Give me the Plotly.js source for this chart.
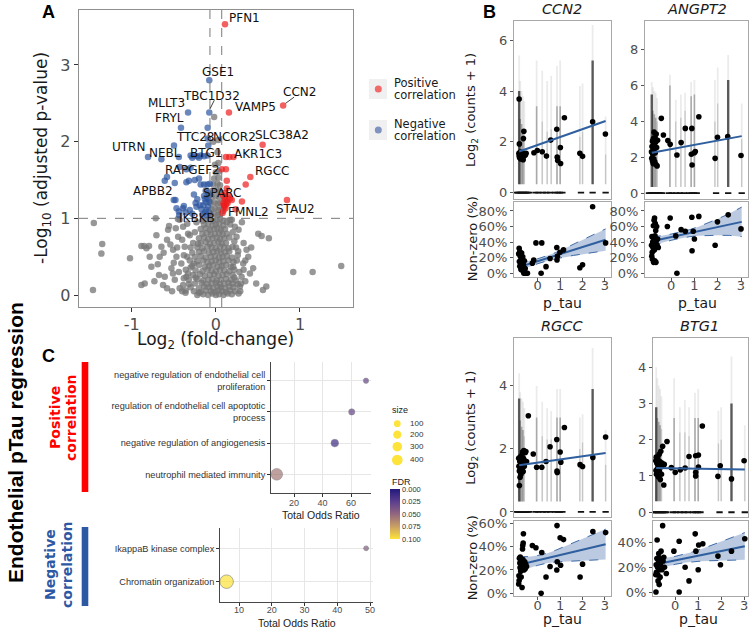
<!DOCTYPE html>
<html><head><meta charset="utf-8">
<script src="https://cdn.plot.ly/plotly-3.0.1.min.js"></script>
<style>body{margin:0;padding:0;background:#fff}#chart{width:750px;height:628px}</style>
</head><body><div id="chart"></div>
<script>
// ================= DATA =================
// ---- Panel A: volcano ----
const fcCut = 0.07;   // |log2 fold-change| threshold
const sigCut = 1;     // -log10 adjusted p threshold
const grayPts = [
[-1.45,0.94],[-1.35,0.665],[-1.36,0.54],[-1.46,0.065],[-1.02,0.48],[-0.885,0.64],[-0.853,0.64],[-0.825,0.61],[-0.794,0.64],[-0.885,0.13],[-0.845,0.15],[-0.714,1.0],[-0.786,0.5],[-0.766,0.37],[-0.706,0.78],[-0.667,0.5],[-0.675,0.26],[-0.607,0.24],[-0.627,0.13],[-0.58,0.09],[-0.647,0.63],[-0.567,0.85],[-0.58,0.72],[-0.556,0.9],[-0.528,0.35],[-0.51,0.28],[-0.488,0.2],[-0.468,0.5],[-0.508,0.59],[-0.448,0.76],[-0.476,0.87],[-0.43,0.98],[-0.41,0.41],[-0.389,0.13],[-0.43,0.09],[-0.37,0.63],[-0.357,0.33],[-0.35,0.24],[-0.33,0.8],[-0.389,0.89],[-0.31,0.45],[-0.45,0.99],
[-0.62,0.55],[-0.54,0.66],[-0.5,0.42],[-0.44,0.3],[-0.46,0.62],[-0.4,0.72],[-0.38,0.52],[-0.34,0.93],[-0.52,0.05],[-0.36,0.03],[-0.32,0.14],[-0.73,0.18],[-0.69,0.4],
[1.49,0.38],[1.15,0.30],[0.63,0.74],[0.504,0.8],[0.544,0.77],[0.385,0.5],[0.405,0.28],[0.325,0.41],[0.365,0.59],[0.444,0.35],[0.306,0.24],[0.286,0.11],[0.246,0.76],[0.226,0.89],[0.266,0.57],[0.206,0.37],[0.19,0.98],[0.6,0.11],[0.92,0.30],[0.56,0.065],[0.17,0.98],[0.33,0.68],[0.29,0.05],[0.35,0.18],[0.27,0.85],[0.48,0.15],[0.31,0.95],[0.42,0.62],
[-0.36,0.06],[-0.33,0.28],[-0.3,0.36],[-0.28,0.55],[-0.27,0.68],[-0.25,0.82],[-0.23,0.95],[-0.3,0.62],[-0.34,0.5],[-0.38,0.22],[-0.4,0.05],[0.28,0.3],[0.25,0.45],[0.24,0.62],[0.22,0.7],[0.3,0.15],[0.27,0.02],[0.33,0.33],[0.2,0.82],[0.17,0.92],[-0.2,0.03],[-0.26,0.41],[-0.24,0.23],[-0.21,0.67],[0.22,0.23],[0.26,0.52],[-0.16,0.97],[0.13,0.95],[-0.31,0.78],[0.35,0.45],
[-0.22,0.0],[-0.15,0.01],[-0.09,0.0],[-0.04,0.02],[0.0,0.0],[0.04,0.01],[0.09,0.0],[0.14,0.02],[0.19,0.01],
[-0.26,0.05],[-0.18,0.04],[-0.12,0.06],[-0.06,0.05],[-0.01,0.04],[0.03,0.06],[0.07,0.05],[0.12,0.04],[0.17,0.06],[0.23,0.05],
[-0.3,0.1],[-0.2,0.09],[-0.14,0.11],[-0.08,0.1],[-0.03,0.09],[0.02,0.11],[0.06,0.1],[0.11,0.09],[0.16,0.11],[0.21,0.1],
[-0.25,0.15],[-0.17,0.16],[-0.11,0.14],[-0.05,0.15],[0.0,0.16],[0.05,0.14],[0.1,0.15],[0.15,0.16],[0.2,0.15],[0.26,0.14],
[-0.32,0.2],[-0.22,0.21],[-0.15,0.19],[-0.09,0.2],[-0.04,0.21],[0.01,0.19],[0.06,0.2],[0.12,0.21],[0.18,0.2],[0.24,0.19],
[-0.27,0.26],[-0.19,0.27],[-0.13,0.25],[-0.07,0.26],[-0.02,0.27],[0.03,0.25],[0.08,0.26],[0.13,0.27],[0.2,0.26],
[-0.24,0.32],[-0.16,0.31],[-0.1,0.33],[-0.05,0.32],[0.0,0.31],[0.05,0.33],[0.1,0.32],[0.16,0.31],[0.22,0.33],
[-0.28,0.38],[-0.2,0.39],[-0.13,0.37],[-0.08,0.38],[-0.03,0.39],[0.02,0.37],[0.07,0.38],[0.12,0.39],[0.18,0.37],
[-0.22,0.44],[-0.15,0.45],[-0.1,0.43],[-0.05,0.44],[0.0,0.45],[0.04,0.43],[0.09,0.44],[0.15,0.45],[0.21,0.43],
[-0.25,0.5],[-0.18,0.51],[-0.12,0.49],[-0.06,0.5],[-0.01,0.51],[0.04,0.49],[0.08,0.5],[0.13,0.51],[0.19,0.49],
[-0.2,0.56],[-0.14,0.57],[-0.08,0.55],[-0.03,0.56],[0.02,0.57],[0.06,0.55],[0.11,0.56],[0.16,0.57],
[-0.22,0.62],[-0.16,0.61],[-0.1,0.63],[-0.05,0.62],[0.0,0.61],[0.05,0.63],[0.1,0.62],[0.15,0.61],[0.2,0.63],
[-0.18,0.68],[-0.12,0.69],[-0.07,0.67],[-0.02,0.68],[0.03,0.69],[0.07,0.67],[0.12,0.68],
[-0.2,0.74],[-0.14,0.75],[-0.09,0.73],[-0.04,0.74],[0.01,0.75],[0.05,0.73],[0.1,0.74],[0.16,0.75],
[-0.16,0.8],[-0.11,0.81],[-0.06,0.79],[-0.01,0.8],[0.04,0.81],[0.08,0.79],[0.13,0.8],
[-0.18,0.86],[-0.12,0.87],[-0.07,0.85],[-0.02,0.86],[0.02,0.87],[0.06,0.85],[0.11,0.86],
[-0.14,0.92],[-0.09,0.93],[-0.04,0.91],[0.0,0.92],[0.04,0.93],[0.09,0.91],
[-0.12,0.98],[-0.07,0.99],[-0.03,0.97],[0.01,0.98],[0.05,0.99],[0.09,0.97],
[-0.06,1.05],[-0.02,1.06],[0.02,1.04],[0.05,1.05],[-0.05,1.12],[-0.01,1.13],[0.03,1.11],[0.06,1.12],
[-0.06,1.2],[-0.02,1.21],[0.02,1.19],[0.05,1.2],[-0.05,1.28],[0.0,1.29],[0.04,1.27],
[-0.04,1.36],[0.01,1.37],[0.05,1.35],[-0.03,1.44],[0.02,1.45],[0.05,1.43],
[-0.02,1.52],[0.03,1.53],[0.0,1.6],[0.04,1.61],[-0.01,1.7],[0.03,1.72],[0.02,1.86],[-0.03,2.0],[0.03,2.02],[-0.02,2.32]
];
const bluePts = [
[-0.078,2.80],[-0.078,2.38],[-0.33,2.38],[-0.414,2.18],[-0.097,2.18],[-0.097,2.04],[-0.09,1.95],[-0.497,1.95],[-0.806,1.80],[-0.647,1.77],[-0.44,1.80],
[-0.3,1.82],[-0.26,1.82],[-0.22,1.81],[-0.18,1.82],[-0.14,1.81],[-0.1,1.82],[-0.28,1.79],[-0.2,1.79],
[-0.43,1.67],[-0.35,1.64],[-0.3,1.66],[-0.58,1.54],[-0.607,1.49],[-0.488,1.46],[-0.35,1.47],[-0.32,1.49],[-0.25,1.5],[-0.2,1.52],
[-0.18,1.44],[-0.14,1.44],[-0.1,1.44],[-0.07,1.45],
[-0.12,1.36],[-0.09,1.33],[-0.14,1.29],[-0.1,1.26],[-0.08,1.22],[-0.12,1.21],[-0.15,1.17],[-0.09,1.15],[-0.11,1.11],[-0.08,1.08],[-0.13,1.08],[-0.1,1.03],[-0.16,1.05],[-0.22,1.25],[-0.24,1.2],[-0.19,1.17],[-0.26,1.31],[-0.08,1.3],[-0.13,1.25],[-0.17,1.12],
[-0.5,1.24],[-0.48,1.24],[-0.467,1.13],[-0.39,1.13],[-0.31,1.11],[-0.44,1.09],[-0.36,1.08],[-0.435,1.04],[-0.38,1.16],[-0.23,1.15],[-0.28,1.06]
];
const redPts = [
[0.109,3.53],[0.80,2.47],[0.156,2.38],[0.556,1.96],[0.12,1.80],[0.16,1.80],[0.21,1.80],[0.07,1.64],[0.12,1.64],[0.41,1.54],[0.355,1.44],[0.13,1.49],[0.13,1.39],[0.19,1.24],[0.31,1.22],[0.235,1.12],
[0.09,1.2],[0.1,1.15],[0.11,1.25],[0.12,1.18],[0.13,1.22],[0.1,1.27],[0.115,1.13],[0.095,1.17],[0.08,1.07],[0.845,1.24],[0.15,1.3],[0.14,1.2],[0.09,1.1],[0.17,1.26],[0.085,1.3],[0.105,1.33]
];
const geneNames = ['PFN1','GSE1','TBC1D32','MLLT3','CCN2','VAMP5','FRYL','SLC38A2','TTC28','NCOR2','UTRN','NEBL','BTG1','AKR1C3','RAPGEF2','RGCC','APBB2','SPARC','STAU2','FMNL2','IKBKB'];

// ---- Panel C: enrichment ----
const posTerms = ['negative regulation of endothelial cell<br>proliferation','regulation of endothelial cell apoptotic<br>process','negative regulation of angiogenesis','neutrophil mediated immunity'];
const posOR = [70.5, 60.5, 48.6, 7.9];
const posSize = [30, 75, 160, 500];
const posFDR = [0.03, 0.03, 0.012, 0.058];
const negTerms = ['IkappaB kinase complex','Chromatin organization'];
const negOR = [48.8, 6.2];
const negSize = [8, 700];
const negFDR = [0.045, 0.1];
const sizeBreaks = [100, 200, 300, 400];
const fdrBreaks = [0, 0.025, 0.05, 0.075, 0.1];

// ---- Panel B: per-gene regressions ----
const streakX = [-0.83,-0.78,-0.72,-0.66,-0.6,-0.05,0.2,0.42,0.6,0.86,1.0,1.88,2.0,2.45,3.03];
const streakCells = [900,300,250,200,150,350,150,150,150,320,320,100,120,900,40];
const zeroX = [-0.95,-0.88,-0.81,-0.74,-0.67,-0.6,-0.53,-0.46,-0.39,-0.1,0.03,0.22,0.38,0.55,0.77,0.89,0.99,1.1,1.93,2.45,3.03];
const fitX = [-0.83, 3.03];
const bandX = [-0.83,-0.4,0,0.4,0.8,1.2,1.6,2.0,2.5,3.03];

const ccn2Hi = [5.4,4.4,4.0,3.8,3.6,5.2,4.8,4.4,4.6,5.0,5.2,4.2,4.3,6.6,3.0];
const ccn2Core = [4.0,2.9,2.7,2.5,2.4,3.4,2.8,2.4,2.5,3.4,3.4,2.2,2.4,5.2,1.5];
const ccn2Mean = [[-0.83,3.69],[-0.82,1.92],[-0.84,1.55],[-0.83,1.45],[-0.81,1.38],[-0.8,1.5],[-0.78,1.6],[-0.77,1.42],[-0.75,1.33],[-0.74,1.52],[-0.72,1.45],[-0.7,1.58],[-0.69,1.38],[-0.67,1.5],[-0.65,1.3],[-0.64,2.13],[-0.62,2.42],[-0.61,1.44],[-0.58,1.52],[-0.55,1.48],[-0.52,1.55],[-0.17,1.57],[-0.02,1.66],[0.2,1.61],[0.39,1.44],[0.58,2.07],[0.85,2.5],[0.87,1.4],[0.89,1.27],[1.01,1.78],[1.02,1.15],[1.19,2.95],[1.88,1.55],[2.0,1.43],[2.45,2.79],[3.02,2.31]];
const ccn2Fit = [1.62, 2.82];
const ccn2Nz = [[-0.85,25],[-0.83,32],[-0.82,15],[-0.8,28],[-0.8,9],[-0.78,22],[-0.77,12],[-0.75,5],[-0.74,19],[-0.72,26],[-0.7,8],[-0.69,14],[-0.67,21],[-0.66,3],[-0.64,11],[-0.62,0],[-0.6,16],[-0.58,0],[-0.56,6],[-0.54,0],[-0.5,0],[-0.46,0],[-0.24,13],[-0.18,17],[-0.08,39],[0.15,0],[0.18,39],[0.37,8.5],[0.55,19],[0.85,33],[0.86,17],[0.88,22],[0.99,27],[1.15,30],[1.88,7],[2.0,11],[2.45,85.5],[3.03,39]];
const ccn2NzFit = [8, 43];
const ccn2NzUp = [13,15.7,18.7,22.4,26.6,31.9,37.2,42.7,49.7,57];
const ccn2NzLo = [3,8.1,12.3,15.8,18.8,20.9,23.0,24.7,26.7,29];

const angpt2Hi = [6.2,5.9,5.7,5.6,5.3,6.6,5.2,5.5,5.6,6.2,6.3,6.3,7.0,7.7,5.0];
const angpt2Core = [5.5,4.6,4.4,4.2,4.0,6.0,4.0,4.2,4.6,5.4,5.5,4.0,5.0,6.3,3.0];
const angpt2Mean = [[-0.84,2.3],[-0.83,1.95],[-0.82,2.6],[-0.8,1.8],[-0.8,2.9],[-0.78,2.15],[-0.77,1.65],[-0.76,3.05],[-0.75,2.45],[-0.74,1.9],[-0.73,3.4],[-0.72,2.7],[-0.7,1.75],[-0.69,3.1],[-0.68,2.25],[-0.66,2.85],[-0.65,1.6],[-0.64,3.3],[-0.62,2.55],[-0.6,1.52],[-0.58,2.95],[-0.42,4.17],[-0.33,3.24],[-0.14,2.93],[-0.04,2.72],[0.25,2.13],[0.43,2.82],[0.61,3.61],[0.89,3.61],[0.87,2.17],[0.9,1.57],[1.04,2.32],[1.0,2.25],[1.19,4.26],[1.89,1.94],[1.99,3.11],[2.43,3.15],[3.0,2.1]];
const angpt2Fit = [2.25, 3.18];
const angpt2Nz = [[-0.84,36],[-0.83,22],[-0.82,47],[-0.81,27],[-0.8,18],[-0.79,40],[-0.78,33],[-0.76,61],[-0.75,14],[-0.74,44],[-0.73,68],[-0.72,30],[-0.71,71],[-0.7,16],[-0.69,48],[-0.68,64],[-0.67,38],[-0.66,55],[-0.65,14],[-0.64,41],[-0.62,60],[-0.6,36],[-0.58,44],[-0.55,33],[-0.16,60],[-0.04,71],[0.25,0],[0.2,48],[0.43,56],[0.61,54],[0.89,72],[0.9,29],[0.95,54],[1.0,44],[1.19,73],[1.89,36],[1.99,66],[2.45,75],[3.0,57]];
const angpt2NzFit = [41, 66];
const angpt2NzUp = [47,48.2,50.3,52.9,56,60.1,64.7,69.8,76.6,85];
const angpt2NzLo = [35,39.2,42.3,44.9,47,48.1,48.7,48.8,48.6,47];

const rgccHi = [4.4,3.8,3.6,3.5,3.3,4.0,3.5,3.3,3.2,3.9,3.9,3.0,3.1,5.2,2.6];
const rgccCore = [3.6,2.9,2.7,2.6,2.4,3.0,2.4,2.3,2.3,3.0,3.0,2.0,2.2,3.9,1.5];
const rgccMean = [[-0.85,1.7],[-0.84,1.45],[-0.82,0.84],[-0.82,1.3],[-0.8,1.6],[-0.79,1.1],[-0.78,1.75],[-0.77,1.4],[-0.75,1.2],[-0.74,1.65],[-0.72,1.5],[-0.71,1.8],[-0.7,1.35],[-0.68,1.9],[-0.67,1.55],[-0.65,1.28],[-0.64,1.7],[-0.62,1.95],[-0.6,1.45],[-0.58,1.62],[-0.56,1.88],[-0.53,1.92],[-0.5,1.6],[-0.42,3.05],[-0.2,1.84],[-0.05,1.42],[0.18,1.42],[0.37,1.6],[0.55,2.07],[0.85,2.3],[0.86,1.3],[0.87,1.25],[1.0,1.9],[1.03,1.58],[1.19,2.68],[1.89,1.5],[2.0,1.44],[2.46,1.73],[3.03,2.38]];
const rgccFit = [1.48, 1.87];
const rgccNz = [[-0.85,8],[-0.84,15],[-0.83,11],[-0.82,30],[-0.8,26],[-0.79,22],[-0.78,31],[-0.76,19],[-0.75,28],[-0.74,14],[-0.72,24],[-0.7,5],[-0.69,22],[-0.68,38],[-0.67,41],[-0.66,29],[-0.65,43],[-0.64,51],[-0.62,20],[-0.6,24],[-0.58,27],[-0.56,21],[-0.54,25],[-0.5,23],[-0.24,41],[-0.08,39],[0.15,0],[0.18,35],[0.37,14],[0.55,23],[0.85,20],[0.86,58],[0.87,27],[1.0,47.5],[1.02,24],[1.15,46],[1.89,14],[2.0,25],[2.46,53],[3.03,52]];
const rgccNzFit = [24.5, 42];
const rgccNzUp = [31.5,31.4,32.4,34.2,36.9,40.2,43.5,46.8,51.1,55];
const rgccNzLo = [17.5,21.4,24,25.8,26.9,27.2,27.5,27.8,28.1,29];

const btg1Hi = [4.0,3.7,3.5,3.4,3.2,3.7,2.9,3.1,2.9,3.3,3.4,2.8,2.9,4.3,2.4];
const btg1Core = [2.9,2.6,2.5,2.4,2.3,2.6,2.2,2.2,2.1,2.6,2.6,1.9,2.0,3.0,1.4];
const btg1Mean = [[-0.85,1.42],[-0.84,1.15],[-0.83,1.52],[-0.82,1.05],[-0.8,1.35],[-0.78,1.2],[-0.76,1.49],[-0.75,1.1],[-0.74,0.98],[-0.72,1.3],[-0.7,1.6],[-0.69,1.12],[-0.67,1.4],[-0.65,0.9],[-0.63,1.68],[-0.62,1.25],[-0.6,1.05],[-0.58,1.36],[-0.55,1.82],[-0.54,1.3],[-0.5,0.75],[-0.48,1.32],[-0.36,1.95],[-0.17,1.23],[0.0,1.1],[0.22,1.17],[0.43,1.22],[0.6,1.54],[0.89,1.56],[0.89,1.1],[0.89,1.0],[1.01,1.58],[1.01,1.25],[1.18,2.38],[1.86,0.99],[1.96,1.28],[2.45,0.92],[3.0,1.42]];
const btg1Fit = [1.22, 1.18];
const btg1Nz = [[-0.85,14],[-0.84,0],[-0.83,22],[-0.82,16],[-0.8,27],[-0.79,42],[-0.77,20],[-0.76,14],[-0.75,9],[-0.73,24],[-0.72,31],[-0.7,6],[-0.69,18],[-0.68,27],[-0.66,12],[-0.64,22],[-0.62,33],[-0.6,26],[-0.58,18],[-0.55,53.6],[-0.53,25],[-0.5,28],[-0.47,20],[-0.39,15],[-0.06,33],[0.17,41],[0.17,0],[0.43,20],[0.6,9],[0.87,47],[0.9,33],[1.0,18],[1.02,38],[1.2,39],[1.86,29],[1.97,22],[2.45,33],[3.03,43]];
const btg1NzFit = [22.5, 37];
const btg1NzUp = [27,27.6,28.8,30.5,32.6,35.1,37.9,40.8,44.2,48];
const btg1NzLo = [18,20.6,22.4,23.7,24.6,25.1,25.3,25.6,25.8,26];

// ================= LAYOUT HELPERS =================
const W = 750, H = 628;
const PX = v => v / W, PY = v => 1 - v / H;
const DJ = 'DejaVu Sans', LS = 'Liberation Sans, Arial, sans-serif';
const traces = [];
const annotations = [];
const shapes = [];
function note(text, x, y, font, extra) {
  annotations.push(Object.assign({text: text, x: PX(x), y: PY(y), xref: 'paper', yref: 'paper', showarrow: false,
    xanchor: 'center', yanchor: 'middle', font: font}, extra || {}));
}
const col = (pts, i) => pts.map(p => p[i]);

const layout = {
  width: W, height: H, margin: {l: 0, r: 0, t: 0, b: 0},
  paper_bgcolor: '#fff', plot_bgcolor: 'rgba(0,0,0,0)', showlegend: false,
  font: {family: DJ, color: '#1a1a1a'}
};

// ================= PANEL A =================
layout.xaxis = {domain: [PX(79), PX(353)], range: [-1.626, 1.63], anchor: 'y', zeroline: false, showgrid: false,
  showline: true, mirror: true, linecolor: '#8f8f8f', linewidth: 1.3, ticks: 'outside', ticklen: 4, tickcolor: '#333',
  tickvals: [-1, 0, 1], ticktext: ['-1', '0', '1'], tickfont: {family: DJ, size: 16, color: '#4d4d4d'}, ticklabelstandoff: -2};
layout.yaxis = {domain: [PY(307), PY(10)], range: [-0.156, 3.716], anchor: 'x', zeroline: false, showgrid: false,
  showline: true, mirror: true, linecolor: '#8f8f8f', linewidth: 1.3, ticks: 'outside', ticklen: 4, tickcolor: '#333',
  tickvals: [0, 1, 2, 3], ticktext: ['0', '1', '2', '3'], tickfont: {family: DJ, size: 16, color: '#4d4d4d'}};
shapes.push({type: 'line', xref: 'x', yref: 'y domain', x0: -fcCut, x1: -fcCut, y0: 0, y1: 1, line: {color: '#7a7a7a', width: 1, dash: 'dash'}});
shapes.push({type: 'line', xref: 'x', yref: 'y domain', x0: fcCut, x1: fcCut, y0: 0, y1: 1, line: {color: '#7a7a7a', width: 1, dash: 'dash'}});
shapes.push({type: 'line', xref: 'x domain', yref: 'y', x0: 0, x1: 1, y0: sigCut, y1: sigCut, line: {color: '#7a7a7a', width: 1, dash: 'dash'}});
traces.push({type: 'scatter', mode: 'markers', x: col(grayPts, 0), y: col(grayPts, 1), xaxis: 'x', yaxis: 'y',
  marker: {size: 6.5, color: '#767676', opacity: 0.76}, hoverinfo: 'skip'});
traces.push({type: 'scatter', mode: 'markers', x: col(bluePts, 0), y: col(bluePts, 1), xaxis: 'x', yaxis: 'y',
  marker: {size: 6.5, color: '#2c55a0', opacity: 0.7}, hoverinfo: 'skip'});
traces.push({type: 'scatter', mode: 'markers', x: col(redPts, 0), y: col(redPts, 1), xaxis: 'x', yaxis: 'y',
  marker: {size: 6.5, color: '#ec1c1c', opacity: 0.7}, hoverinfo: 'skip'});
const labelPos = {PFN1:[0.346,3.608], GSE1:[0.022,2.911], TBC1D32:[-0.049,2.598], MLLT3:[-0.584,2.507], CCN2:[1.0,2.643],
  VAMP5:[0.474,2.447], FRYL:[-0.553,2.304], SLC38A2:[0.79,2.086], TTC28:[-0.244,2.064], NCOR2:[0.216,2.064],
  UTRN:[-1.04,1.934], NEBL:[-0.604,1.855], BTG1:[-0.109,1.847], AKR1C3:[0.501,1.838], RAPGEF2:[-0.28,1.63],
  RGCC:[0.664,1.613], APBB2:[-0.743,1.356], SPARC:[0.07,1.334], STAU2:[0.949,1.117], FMNL2:[0.386,1.082], IKBKB:[-0.228,1.004]};
geneNames.forEach(g => {
  annotations.push({text: g, x: labelPos[g][0], y: labelPos[g][1], xref: 'x', yref: 'y', showarrow: false,
    xanchor: 'center', yanchor: 'middle', font: {family: DJ, size: 12, color: '#111'}});
});
shapes.push({type: 'line', xref: 'x', yref: 'y', x0: redPts[1][0] + 0.03, y0: redPts[1][1] + 0.03, x1: redPts[1][0] + 0.13, y1: redPts[1][1] + 0.11, line: {color: '#111', width: 0.8}});
shapes.push({type: 'line', xref: 'x', yref: 'y', x0: bluePts[1][0] + 0.01, y0: bluePts[1][1] + 0.05, x1: bluePts[1][0] + 0.06, y1: bluePts[1][1] + 0.16, line: {color: '#111', width: 0.8}});
note('Log<sub>2</sub> (fold-change)', 216, 340, {family: DJ, size: 17, color: '#1a1a1a'});
note('-Log<sub>10</sub> (adjusted p-value)', 42, 158, {family: DJ, size: 17, color: '#1a1a1a'}, {textangle: -90});
shapes.push({type: 'rect', xref: 'paper', yref: 'paper', x0: PX(369), x1: PX(387), y0: PY(99), y1: PY(79), fillcolor: '#f0f0f0', line: {width: 0}});
shapes.push({type: 'rect', xref: 'paper', yref: 'paper', x0: PX(369), x1: PX(387), y0: PY(140), y1: PY(120), fillcolor: '#f0f0f0', line: {width: 0}});
shapes.push({type: 'circle', xref: 'paper', yref: 'paper', x0: PX(374.8), x1: PX(381.8), y0: PY(92.5), y1: PY(85.5), fillcolor: '#f06a6a', line: {width: 0}});
shapes.push({type: 'circle', xref: 'paper', yref: 'paper', x0: PX(374.8), x1: PX(381.8), y0: PY(133.5), y1: PY(126.5), fillcolor: '#8093c0', line: {width: 0}});
const legFont = {family: DJ, size: 11.5, color: '#1a1a1a'};
note('Positive', 392, 83, legFont, {xanchor: 'left'});
note('correlation', 392, 94.5, legFont, {xanchor: 'left'});
note('Negative', 392, 124, legFont, {xanchor: 'left'});
note('correlation', 392, 135.5, legFont, {xanchor: 'left'});
note('<b>A</b>', 49, 12, {family: LS, size: 18, color: '#000'});

// ================= PANEL C =================
const sizeToDiam = s => Math.sqrt(22 + 0.23 * s);
const fdrScale = [[0, '#fde33a'], [0.25, '#c9a064'], [0.5, '#91667f'], [0.75, '#5b3e8e'], [1, '#23187c']];
const cTick = {family: LS, size: 9.2, color: '#333'};
layout.xaxis2 = {domain: [PX(271), PX(370.7)], range: [3.86, 73.8], anchor: 'y2', zeroline: false, showgrid: true, gridcolor: '#e6e6e6',
  showline: true, linecolor: '#333', linewidth: 0.9, ticks: 'outside', ticklen: 3, tickcolor: '#333', ticklabelstandoff: -2,
  tickvals: [20, 40, 60], ticktext: ['20', '40', '60'], tickfont: {family: LS, size: 9, color: '#4d4d4d'}};
layout.yaxis2 = {domain: [PY(493), PY(362)], range: [0.4, posTerms.length + 0.6], anchor: 'x2', zeroline: false, showgrid: true, gridcolor: '#e6e6e6',
  showline: true, linecolor: '#333', linewidth: 0.9, ticks: 'outside', ticklen: 3, tickcolor: '#333',
  tickvals: posTerms.map((t, i) => posTerms.length - i), ticktext: posTerms, tickfont: cTick};
layout.xaxis3 = {domain: [PX(220), PX(373)], range: [4.18, 50.9], anchor: 'y3', zeroline: false, showgrid: true, gridcolor: '#e6e6e6',
  showline: true, linecolor: '#333', linewidth: 0.9, ticks: 'outside', ticklen: 3, tickcolor: '#333', ticklabelstandoff: -3,
  tickvals: [10, 20, 30, 40, 50], ticktext: ['10', '20', '30', '40', '50'], tickfont: {family: LS, size: 9, color: '#4d4d4d'}};
layout.yaxis3 = {domain: [PY(601.7), PY(528.3)], range: [0.4, negTerms.length + 0.6], anchor: 'x3', zeroline: false, showgrid: true, gridcolor: '#e6e6e6',
  showline: true, linecolor: '#333', linewidth: 0.9, ticks: 'outside', ticklen: 3, tickcolor: '#333',
  tickvals: negTerms.map((t, i) => negTerms.length - i), ticktext: negTerms, tickfont: cTick};
traces.push({type: 'scatter', mode: 'markers', x: posOR, y: posTerms.map((t, i) => posTerms.length - i), xaxis: 'x2', yaxis: 'y2',
  marker: {size: posSize.map(sizeToDiam), color: posFDR.map(v => -v), cmin: -0.1, cmax: 0, colorscale: fdrScale,
    line: {width: 0.5, color: '#555'}, showscale: true,
    colorbar: {x: PX(390), xanchor: 'left', xpad: 0, y: PY(514.3), yanchor: 'middle', ypad: 0, len: 50, lenmode: 'pixels',
      thickness: 9.5, thicknessmode: 'pixels', outlinewidth: 0, ticks: '', tickvals: fdrBreaks.map(v => -v),
      ticktext: fdrBreaks.map(v => v.toFixed(3)), tickfont: {family: LS, size: 7.5, color: '#333'}}}, hoverinfo: 'skip'});
traces.push({type: 'scatter', mode: 'markers', x: negOR, y: negTerms.map((t, i) => negTerms.length - i), xaxis: 'x3', yaxis: 'y3',
  marker: {size: negSize.map(sizeToDiam), color: negFDR.map(v => -v), cmin: -0.1, cmax: 0, colorscale: fdrScale,
    line: {width: 0.6, color: '#444'}, showscale: false}, hoverinfo: 'skip'});
note('Total Odds Ratio', 321, 515, {family: LS, size: 10.5, color: '#222'});
note('Total Odds Ratio', 296.5, 622.5, {family: LS, size: 10.5, color: '#222'});
note('size', 390, 410, {family: LS, size: 9, color: '#222'}, {xanchor: 'left'});
const sizeRowY = [423.7, 434.7, 446.7, 460];
sizeBreaks.forEach((s, i) => {
  const r = sizeToDiam(s) / 2;
  shapes.push({type: 'circle', xref: 'paper', yref: 'paper', x0: PX(397.3 - r), x1: PX(397.3 + r), y0: PY(sizeRowY[i] + r), y1: PY(sizeRowY[i] - r), fillcolor: '#fde33a', line: {width: 0}});
  note(String(s), 408, sizeRowY[i], {family: LS, size: 8, color: '#333'}, {xanchor: 'left'});
});
note('FDR', 390, 481.7, {family: LS, size: 9, color: '#222'}, {xanchor: 'left'});
note('<b>Endothelial pTau regression</b>', 15, 443, {family: LS, size: 21, color: '#000'}, {textangle: -90});
note('<b>C</b>', 48, 356, {family: LS, size: 18, color: '#000'});
note('<b>Positive</b>', 55, 418, {family: DJ, size: 14, color: '#ff0000'}, {textangle: -90});
note('<b>correlation</b>', 71, 418, {family: DJ, size: 14, color: '#ff0000'}, {textangle: -90});
note('<b>Negative</b>', 50, 565, {family: DJ, size: 14, color: '#2d58a4'}, {textangle: -90});
note('<b>correlation</b>', 67, 565, {family: DJ, size: 14, color: '#2d58a4'}, {textangle: -90});
shapes.push({type: 'rect', xref: 'paper', yref: 'paper', x0: PX(81.7), x1: PX(88.3), y0: PY(492), y1: PY(362), fillcolor: '#ff0000', line: {width: 0}});
shapes.push({type: 'rect', xref: 'paper', yref: 'paper', x0: PX(81.7), x1: PX(88.3), y0: PY(606), y1: PY(527), fillcolor: '#2d58a4', line: {width: 0}});

// ================= PANEL B =================
const genes = [
  {name: 'CCN2', ax: 4, xd: [514, 611], ty: [20.7, 199.3], by: [201.7, 276.7], xr: [-1.06, 3.27], yr: [-0.26, 6.77], yt: [0, 2, 4, 6],
   pr: [-4.4, 91.9], pt: [0, 20, 40, 60, 80], hi: ccn2Hi, core: ccn2Core, base: 0.33, mean: ccn2Mean, fit: ccn2Fit, nz: ccn2Nz, nzFit: ccn2NzFit, up: ccn2NzUp, lo: ccn2NzLo, title: [562, 9], ptau: [562, 303], left: true},
  {name: 'ANGPT2', ax: 6, xd: [645, 748], ty: [20.7, 199.3], by: [201.7, 276.7], xr: [-1.12, 3.3], yr: [-0.34, 9.61], yt: [0, 2, 4, 6, 8],
   pr: [-4.4, 91.9], pt: [0, 20, 40, 60, 80], hi: angpt2Hi, core: angpt2Core, base: 0.35, mean: angpt2Mean, fit: angpt2Fit, nz: angpt2Nz, nzFit: angpt2NzFit, up: angpt2NzUp, lo: angpt2NzLo, title: [696.5, 9], ptau: [697, 303], left: false},
  {name: 'RGCC', ax: 8, xd: [514, 611], ty: [338.3, 517.3], by: [520.7, 596], xr: [-1.06, 3.27], yr: [-0.17, 5.51], yt: [0, 2, 4],
   pr: [-2.3, 62.2], pt: [0, 20, 40, 60], hi: rgccHi, core: rgccCore, base: 0.33, mean: rgccMean, fit: rgccFit, nz: rgccNz, nzFit: rgccNzFit, up: rgccNzUp, lo: rgccNzLo, title: [562, 326], ptau: [562, 618.5], left: true},
  {name: 'BTG1', ax: 10, xd: [653, 748], ty: [338.3, 517.3], by: [520.7, 596], xr: [-0.97, 3.17], yr: [-0.14, 4.80], yt: [0, 1, 2, 3, 4],
   pr: [-3.2, 57.6], pt: [0, 20, 40], hi: btg1Hi, core: btg1Core, base: 0.3, mean: btg1Mean, fit: btg1Fit, nz: btg1Nz, nzFit: btg1NzFit, up: btg1NzUp, lo: btg1NzLo, title: [699, 326], ptau: [698, 618.5], left: false}
];
const bTick = {family: DJ, size: 13, color: '#4d4d4d'};
const boxAx = {zeroline: false, showgrid: false, showline: true, mirror: true, linecolor: '#a8a8a8', linewidth: 1,
  ticks: 'outside', ticklen: 3, tickcolor: '#555', tickfont: bTick};
const fitBlue = '#2f5f9e';
genes.forEach(g => {
  const a = g.ax, b = g.ax + 1;
  const xt = 'x' + a, yt = 'y' + a, xb = 'x' + b, yb = 'y' + b;
  layout['xaxis' + a] = Object.assign({}, boxAx, {domain: [PX(g.xd[0]), PX(g.xd[1])], range: g.xr, anchor: yt, showticklabels: false, ticks: ''});
  layout['yaxis' + a] = Object.assign({}, boxAx, {domain: [PY(g.ty[1]), PY(g.ty[0])], range: g.yr, anchor: xt, tickvals: g.yt, ticktext: g.yt.map(String)});
  layout['xaxis' + b] = Object.assign({}, boxAx, {domain: [PX(g.xd[0]), PX(g.xd[1])], range: g.xr, anchor: yb, tickvals: [0, 1, 2, 3], ticktext: ['0', '1', '2', '3'], ticklabelstandoff: -6});
  layout['yaxis' + b] = Object.assign({}, boxAx, {domain: [PY(g.by[1]), PY(g.by[0])], range: g.pr, anchor: xb, tickvals: g.pt, ticktext: g.pt.map(v => v + '%')});
  const seg = (idx, top) => {
    const X = [], Y = [];
    idx.forEach(i => { X.push(streakX[i], streakX[i], null); Y.push(g.base, top[i], null); });
    return {X, Y};
  };
  const all = streakX.map((v, i) => i);
  const groups = [
    {idx: all.filter(i => streakCells[i] >= 600), c: 'rgba(0,0,0,0.62)', w: 2.4},
    {idx: all.filter(i => streakCells[i] >= 200 && streakCells[i] < 600), c: 'rgba(0,0,0,0.28)', w: 1.6},
    {idx: all.filter(i => streakCells[i] < 200), c: 'rgba(0,0,0,0.16)', w: 1.3}
  ];
  const faint = seg(all, g.hi);
  traces.push({type: 'scatter', mode: 'lines', x: faint.X, y: faint.Y, xaxis: xt, yaxis: yt, line: {color: 'rgba(0,0,0,0.08)', width: 1.8}, hoverinfo: 'skip'});
  groups.forEach(gr => {
    const s = seg(gr.idx, g.core);
    traces.push({type: 'scatter', mode: 'lines', x: s.X, y: s.Y, xaxis: xt, yaxis: yt, line: {color: gr.c, width: gr.w}, hoverinfo: 'skip'});
  });
  traces.push({type: 'scatter', mode: 'markers', x: zeroX, y: zeroX.map(() => 0), xaxis: xt, yaxis: yt,
    marker: {symbol: 'line-ew', size: 4.5, line: {width: 1.8, color: '#111'}}, hoverinfo: 'skip'});
  traces.push({type: 'scatter', mode: 'markers', x: col(g.mean, 0), y: col(g.mean, 1), xaxis: xt, yaxis: yt,
    marker: {size: 5.6, color: '#000'}, hoverinfo: 'skip'});
  traces.push({type: 'scatter', mode: 'lines', x: fitX, y: g.fit, xaxis: xt, yaxis: yt, line: {color: fitBlue, width: 2}, hoverinfo: 'skip'});
  traces.push({type: 'scatter', mode: 'lines', x: bandX.concat(bandX.slice().reverse()), y: g.up.concat(g.lo.slice().reverse()),
    fill: 'toself', fillcolor: 'rgba(44,90,160,0.32)', line: {width: 0}, xaxis: xb, yaxis: yb, hoverinfo: 'skip'});
  traces.push({type: 'scatter', mode: 'lines', x: bandX, y: g.up, xaxis: xb, yaxis: yb, line: {color: fitBlue, width: 0.9, dash: 'dash'}, hoverinfo: 'skip'});
  traces.push({type: 'scatter', mode: 'lines', x: bandX, y: g.lo, xaxis: xb, yaxis: yb, line: {color: fitBlue, width: 0.9, dash: 'dash'}, hoverinfo: 'skip'});
  traces.push({type: 'scatter', mode: 'lines', x: fitX, y: g.nzFit, xaxis: xb, yaxis: yb, line: {color: fitBlue, width: 2}, hoverinfo: 'skip'});
  traces.push({type: 'scatter', mode: 'markers', x: col(g.nz, 0), y: col(g.nz, 1), xaxis: xb, yaxis: yb,
    marker: {size: 5.6, color: '#000'}, hoverinfo: 'skip'});
  note('<i>' + g.name + '</i>', g.title[0], g.title[1], {family: DJ, size: 14.5, color: '#1a1a1a'});
  note('p_tau', g.ptau[0], g.ptau[1], {family: DJ, size: 14, color: '#1a1a1a'});
  if (g.left) {
    note('Log<sub>2</sub> (counts + 1)', 472, (g.ty[0] + g.ty[1]) / 2, {family: DJ, size: 13, color: '#1a1a1a'}, {textangle: -90});
    note('Non-zero (%)', 472, (g.by[0] + g.by[1]) / 2, {family: DJ, size: 13, color: '#1a1a1a'}, {textangle: -90});
  }
});
note('<b>B</b>', 489, 12, {family: LS, size: 18, color: '#000'});

layout.annotations = annotations;
layout.shapes = shapes;
Plotly.newPlot('chart', traces, layout, {displayModeBar: false, staticPlot: true});
</script></body></html>
